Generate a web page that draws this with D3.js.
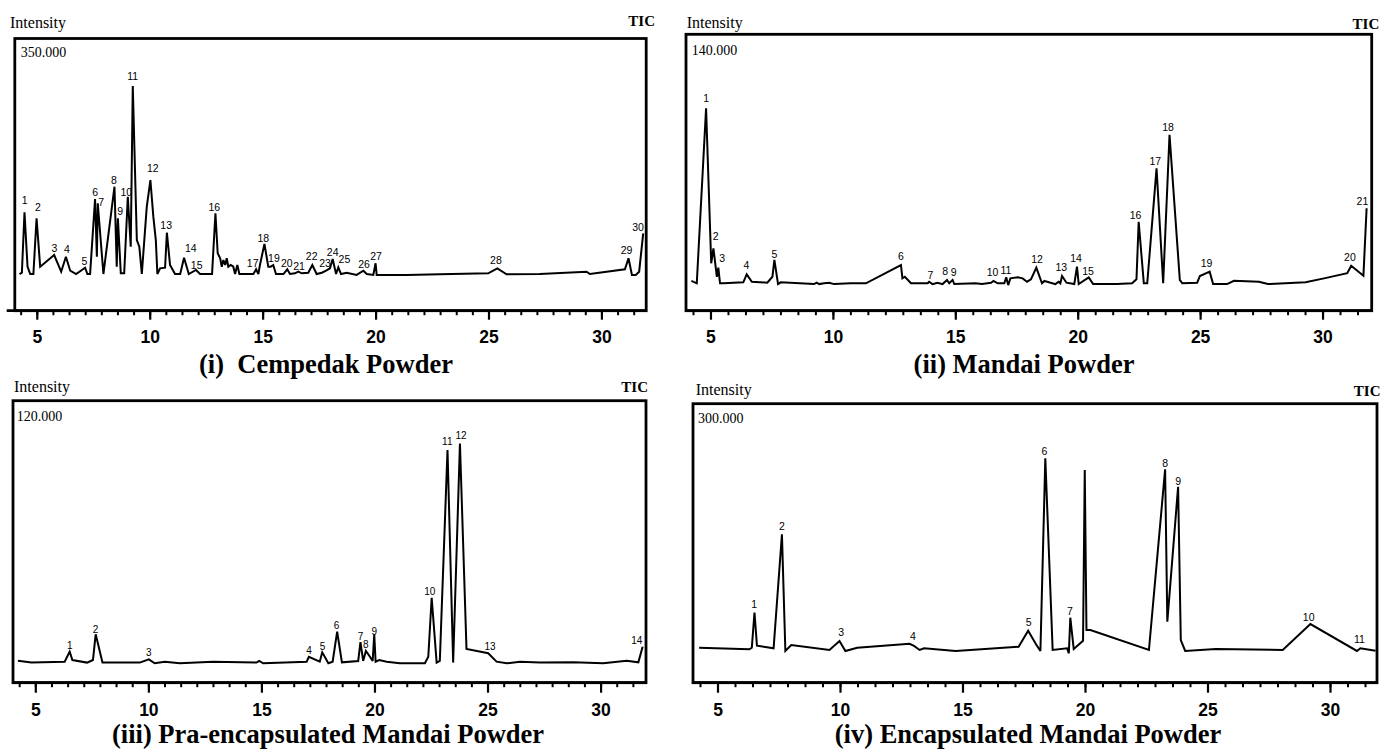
<!DOCTYPE html>
<html><head><meta charset="utf-8">
<script src="https://cdn.jsdelivr.net/npm/d3@7"></script>
<style>body{margin:0;background:#fff}svg{display:block}</style>
</head><body>
<svg id="chart" width="1381" height="749"></svg>
<script>
// ---------- data ----------
const tickLabels = [5, 10, 15, 20, 25, 30];
const timeDomain = [4, 32];
const panelTitles = ["(i)  Cempedak Powder", "(ii) Mandai Powder", "(iii) Pra-encapsulated Mandai Powder", "(iv) Encapsulated Mandai Powder"];
const scaleLabels = ["350.000", "140.000", "120.000", "300.000"];
const scaleMax = [350, 140, 120, 300];

const cempedakTime = [4.235,4.34,4.456,4.59,4.71,4.85,4.99,5.15,5.77,6.08,6.29,6.48,6.74,7.14,7.24,7.36,7.58,7.66,7.70,7.95,8.44,8.54,8.59,8.72,8.87,9.03,9.16,9.25,9.43,9.54,9.65,9.87,10.03,10.16,10.27,10.34,10.46,10.68,10.76,10.90,11.12,11.35,11.52,11.73,12.05,12.23,12.76,12.91,13.01,13.12,13.19,13.26,13.34,13.41,13.48,13.59,13.70,13.78,13.88,13.97,14.30,14.59,14.71,14.81,14.88,15.08,15.25,15.36,15.47,15.59,15.92,16.09,16.21,16.43,16.58,16.73,17.02,17.20,17.39,17.62,17.81,17.98,18.10,18.25,18.35,18.47,18.72,19.16,19.46,19.61,19.90,20.00,20.05,21.38,22.85,24.99,25.39,25.80,27.27,29.34,29.49,31.04,31.20,31.35,31.52,31.67,31.85];
const cempedakIntensity = [47.4,49.1,126.5,56.8,47.4,47.4,118.8,56.8,71.8,50.4,69.6,51.7,47.4,55.5,47.4,47.4,143.6,69.6,138.1,47.4,159.4,56.8,118.8,48.3,48.3,146.5,82.4,288.5,91,82.4,47.4,133.7,167.9,120.9,91,47.4,54.7,55.5,100.4,59,47.4,47.4,68.3,47.4,52.6,47.4,47.4,125.3,74,67.6,56.8,65.4,59,67.6,56.8,59,56.8,47.4,59,47.4,47.4,47.4,53.5,47.4,59,85.9,56.8,56.8,59,47.4,47.4,53.5,47.4,48.3,50.4,48.3,49.1,59,47.4,49.1,51.7,54.7,66.7,47.4,56,47.4,49.1,46.2,51.7,47.4,46.2,61.2,46.2,46.2,47,48.3,54.7,47,47.4,50.4,47.4,53.5,67.6,46.2,46.2,50.4,99.6];
const cempedakLabelTime = [4.46,5.05,5.78,6.33,7.11,7.58,7.85,8.42,8.69,8.96,9.25,10.14,10.73,11.82,12.08,12.86,14.56,15.03,15.50,16.07,16.61,17.17,17.76,18.10,18.62,19.49,20.02,25.33,31.11,31.62];
const cempedakLabelIntensity = [142.3,132.9,80.4,79.1,63.2,152.2,140.1,167.9,127.3,152.9,300.4,182.9,109.4,80.4,59,132.9,61.2,93.2,67.6,61.2,57.7,70.5,61.2,76,66.7,59.9,70.5,65.4,78.2,107.3];

const mandaiTime = [4.22,4.44,4.82,5.03,5.12,5.21,5.26,5.32,5.39,5.53,6.34,6.48,6.69,7.32,7.53,7.61,7.76,7.87,9.23,9.34,9.44,9.64,9.85,10.05,10.73,11.35,12.78,12.84,12.94,13.19,13.87,13.93,14.07,14.27,14.48,14.66,14.75,14.89,14.96,15.82,16.09,16.46,16.56,16.73,17.0,17.08,17.16,17.25,17.55,17.75,17.93,18.09,18.31,18.54,18.64,19.09,19.22,19.29,19.36,19.54,19.86,19.97,20.04,20.45,20.63,21.61,22.22,22.40,22.49,22.70,22.84,23.22,23.49,23.75,24.17,24.27,24.88,24.99,25.39,25.53,26.10,26.38,27.40,27.77,29.31,30.06,31.01,31.17,31.67,31.80];
const mandaiIntensity = [15.2,14.0,102.4,24.1,31.7,22.4,17.3,21.9,14.0,14.0,14.5,18.5,14.8,14.3,17.3,25.8,13.6,14.5,13.6,14.3,13.6,14.0,14.3,13.6,14.0,14.0,23.2,16.5,17.3,14.0,14.0,14.8,13.6,14.3,13.6,15.7,14.0,15.7,13.6,14.0,13.6,14.3,15.2,14.0,14.0,17.0,13.1,16.5,17.0,16.5,14.8,16.0,21.9,14.0,15.2,13.6,14.8,14.0,17.7,14.3,13.6,22.4,13.6,17.0,13.6,13.6,14.0,16.0,45.1,14.0,14.0,72.1,14.0,89.0,15.7,14.0,14.3,17.7,19.9,13.6,13.6,15.3,14.8,13.6,14.5,16.5,19.1,22.9,17.8,51.9];
const mandaiLabelTime = [4.82,5.21,5.48,6.47,7.61,12.78,13.98,14.59,14.93,16.52,17.07,18.34,19.33,19.93,20.42,22.36,23.17,23.69,25.26,31.12,31.63];
const mandaiLabelIntensity = [107.5,37.9,26.6,22.9,28.8,27.8,18.2,19.9,19.4,19.4,20.4,26.1,22.1,26.6,20.2,48.5,75.8,92.8,24.4,27.4,55.6];

const praTime = [4.23,4.83,6.30,6.52,6.64,7.29,7.55,7.67,7.97,9.62,10.02,10.28,10.73,11.39,12.86,14.78,14.90,15.08,17.0,17.10,17.58,17.69,17.96,18.15,18.35,18.56,19.28,19.38,19.50,19.62,19.80,19.92,19.99,20.05,20.21,20.54,21.12,22.23,22.38,22.53,22.75,22.89,23.23,23.48,23.78,24.07,25.03,25.40,25.85,26.43,27.32,28.79,30.12,31.15,31.67,31.86];
const praIntensity = [9.3,8.5,8.9,13.2,9.6,8.5,9.6,20.6,8.5,8.5,9.9,8.2,8.9,8.2,8.9,8.5,9.2,8.2,8.9,11.0,8.9,12.9,8.2,8.9,21.7,8.6,9.2,17.2,9.2,13.5,11.0,9.2,20.6,8.9,9.6,8.9,8.2,8.2,11.0,36.2,8.5,9.2,99.3,8.5,102.1,14.3,12.5,8.9,8.2,8.9,8.5,8.6,8.2,9.3,8.6,15.3];
const praLabelTime = [6.52,7.66,10.02,17.11,17.70,18.32,19.38,19.62,19.99,22.45,23.22,23.83,25.11,31.60];
const praLabelIntensity = [15.7,22.8,12.7,13.9,15.3,24.3,19.6,16.3,22.0,38.8,102.8,105.7,15.3,18.1];

const encTime = [4.25,6.30,6.40,6.51,6.61,7.29,7.63,7.77,8.01,9.57,9.98,10.22,10.70,12.84,13.02,13.25,13.43,14.72,17.29,17.68,18.0,18.18,18.38,18.68,19.27,19.34,19.40,19.54,19.92,19.99,20.06,20.22,22.61,23.27,23.36,23.80,23.91,24.09,25.34,28.07,29.20,31.10,31.24,31.86];
const encIntensity = [37.6,35.9,37.6,75.3,39.8,37.0,159.5,34.1,40.5,35.2,44.8,34.1,37.6,41.9,39.5,35.2,37.0,34.1,38.7,55.9,41.3,34.1,241.2,35.2,37.0,31.6,69.9,36.2,45.1,228.6,56.6,56.6,35.2,229.4,65.6,210.7,45.9,34.1,36.2,35.2,63.1,34.1,37.0,34.4];
const encLabelTime = [6.50,7.63,10.05,12.98,17.70,18.34,19.38,23.27,23.80,29.13,31.20];
const encLabelIntensity = [84.3,168.5,54.2,49.5,64.9,249.1,77.1,236.5,216.8,69.9,46.7];

// ---------- layout ----------
const layouts = [
  {xr:[14.2,646.6], yr:[311,38], frame:[14.8,38.5,646.2,310.7], axisStart:6.7, intX:10, intY:28.3, ticX:655, ticY:26, titleX:326, titleY:372.5, scX:20.7, scY:57.3, lab:10.5, pad:11, majorLen:9},
  {xr:[686,1371.5], yr:[311,34], frame:[686,34.3,1371.7,310.7], axisStart:686, intX:686.7, intY:28, ticX:1379.3, ticY:29.3, titleX:1024, titleY:372.5, scX:691.7, scY:55, lab:10.5, pad:11, majorLen:9},
  {xr:[12.7,645.8], yr:[682.5,401.5], frame:[13,400.7,646,682.7], axisStart:13, intX:14, intY:392.3, ticX:648, ticY:391.7, titleX:328, titleY:743, scX:16.7, scY:420.7, lab:10, pad:10.5, majorLen:10},
  {xr:[693,1379], yr:[682.7,403.7], frame:[693,403.7,1377,682.7], axisStart:693, intX:695.7, intY:395, ticX:1380.5, ticY:395.7, titleX:1028, titleY:743, scX:698, scY:423.3, lab:10.5, pad:10.5, majorLen:10}
];
const series = [
  [cempedakTime, cempedakIntensity, cempedakLabelTime, cempedakLabelIntensity],
  [mandaiTime, mandaiIntensity, mandaiLabelTime, mandaiLabelIntensity],
  [praTime, praIntensity, praLabelTime, praLabelIntensity],
  [encTime, encIntensity, encLabelTime, encLabelIntensity]
];

const svg = d3.select("#chart");
const serif = "'Liberation Serif','Times New Roman',serif";
const sans = "'Liberation Sans',Arial,sans-serif";
const minorTicks = d3.range(-1, 38).map(k => 5 + k * 5 / 7).filter(t => t >= timeDomain[0] && t <= timeDomain[1]);

series.forEach((s, i) => {
  const L = layouts[i];
  const g = svg.append("g");
  const x = d3.scaleLinear().domain(timeDomain).range(L.xr);
  const y = d3.scaleLinear().domain([0, scaleMax[i]]).range(L.yr);
  const [fl, ft, fr, fb] = L.frame;

  // frame
  g.append("rect").attr("x", fl).attr("y", ft).attr("width", fr - fl).attr("height", fb - ft)
    .attr("fill", "none").attr("stroke", "#000").attr("stroke-width", 2.8);
  g.append("line").attr("x1", L.axisStart).attr("x2", fr).attr("y1", fb).attr("y2", fb)
    .attr("stroke", "#000").attr("stroke-width", 2.8);

  // minor ticks
  const minorAxis = d3.axisBottom(x).tickValues(minorTicks).tickSize(4.5).tickFormat("");
  const gm = g.append("g").attr("transform", `translate(0,${fb})`).call(minorAxis);
  gm.select(".domain").remove();
  gm.selectAll(".tick line").attr("stroke", "#000").attr("stroke-width", 2);

  // major ticks + labels
  const majorAxis = d3.axisBottom(x).tickValues(tickLabels).tickSize(L.majorLen).tickPadding(L.pad).tickFormat(d3.format("d"));
  const ga = g.append("g").attr("transform", `translate(0,${fb})`).call(majorAxis);
  ga.select(".domain").remove();
  ga.selectAll(".tick line").attr("stroke", "#000").attr("stroke-width", 2.2);
  ga.selectAll(".tick text").attr("fill", "#000").style("font-family", sans)
    .style("font-size", "17.5px").style("font-weight", "bold");

  // trace
  const pts = s[0].map((t, k) => [t, s[1][k]]);
  const line = d3.line().x(d => x(d[0])).y(d => y(d[1]));
  g.append("path").datum(pts).attr("d", line).attr("fill", "none")
    .attr("stroke", "#000").attr("stroke-width", 2).attr("stroke-linejoin", "miter").attr("stroke-miterlimit", 3);

  // peak labels
  g.selectAll("text.peak").data(s[2]).enter().append("text").attr("class", "peak")
    .attr("x", (t) => x(t)).attr("y", (t, k) => y(s[3][k])).attr("dy", "0.36em")
    .attr("text-anchor", "middle").style("font-family", sans).style("font-size", L.lab + "px")
    .text((t, k) => k + 1);

  // texts
  g.append("text").attr("x", L.intX).attr("y", L.intY).style("font-family", serif).style("font-size", "16px").text("Intensity");
  g.append("text").attr("x", L.ticX).attr("y", L.ticY).attr("text-anchor", "end").style("font-family", serif)
    .style("font-size", "15px").style("font-weight", "bold").text("TIC");
  g.append("text").attr("x", L.scX).attr("y", L.scY).style("font-family", serif).style("font-size", "14px").text(scaleLabels[i]);
  g.append("text").attr("x", L.titleX).attr("y", L.titleY).attr("text-anchor", "middle").style("font-family", serif)
    .style("font-size", "26.5px").style("font-weight", "bold").style("white-space", "pre").text(panelTitles[i]);
});
</script>
</body></html>
